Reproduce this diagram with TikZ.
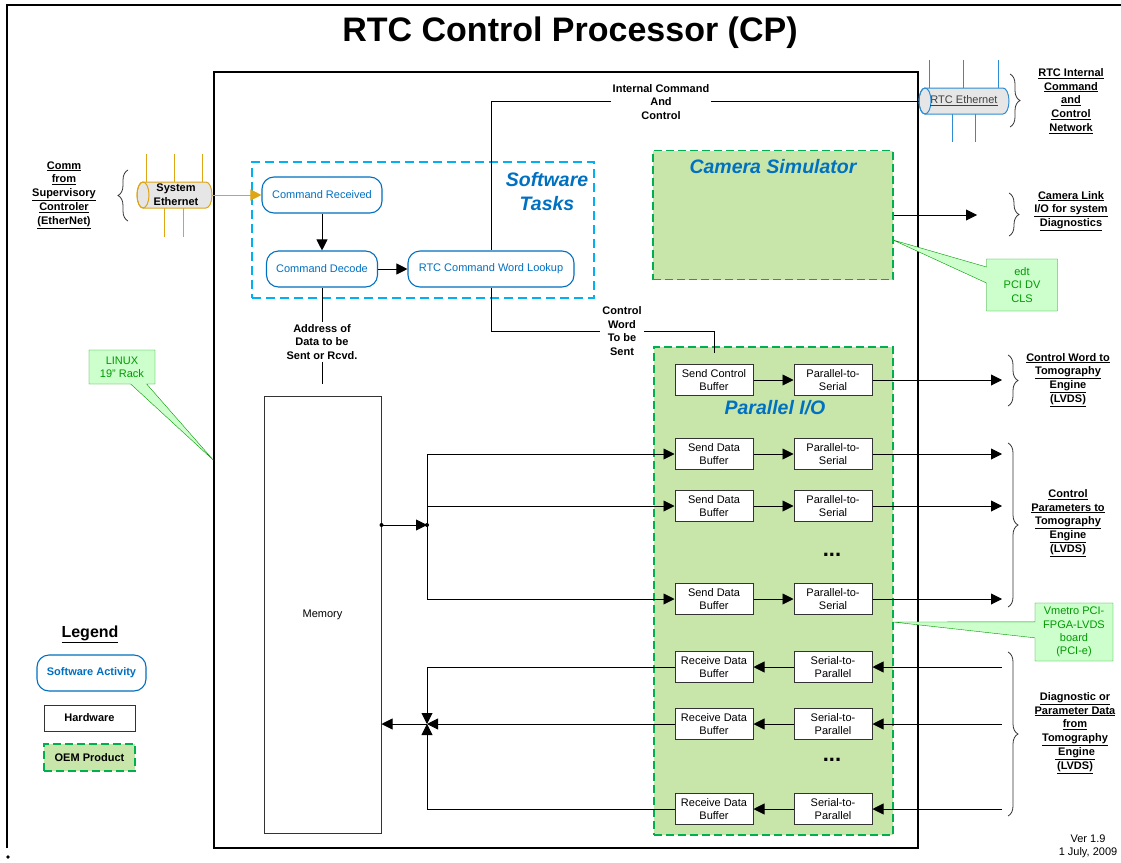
\documentclass[tikz,border=0pt]{standalone}
\usepackage{fontspec}
\setmainfont{Liberation Sans}
\usetikzlibrary{arrows.meta,shapes,shapes.callouts,decorations.pathreplacing}

\definecolor{swblue}{RGB}{0,112,192}
\definecolor{taskcyan}{RGB}{0,176,240}
\definecolor{oemgreen}{RGB}{0,176,80}
\definecolor{oemfill}{RGB}{200,230,170}
\definecolor{notegreen}{RGB}{0,153,0}
\definecolor{notefill}{RGB}{204,255,204}
\definecolor{netgold}{RGB}{222,165,20}
\definecolor{netblue}{RGB}{45,140,210}
\definecolor{netgray}{RGB}{230,230,230}

\newcommand{\boxfont}{\fontsize{11}{13.4}\selectfont}
\newcommand{\lblfont}{\fontsize{11}{13.8}\selectfont\bfseries}
\newcommand{\grpfont}{\fontsize{19.5}{24}\selectfont\bfseries\itshape}
\newcommand{\ul}[1]{\underline{#1}}

\begin{document}
\begin{tikzpicture}[x=1pt,y=-1pt]
\useasboundingbox (0,0) rectangle (1121,862);

\tikzstyle{swtask}=[draw=swblue,line width=1.1pt,rounded corners=12pt,fill=white,text=swblue,font=\boxfont,minimum height=36pt,inner sep=2pt]
\tikzstyle{hwbox}=[draw=black!80,line width=1pt,fill=white,font=\boxfont,align=center,minimum width=78pt,minimum height=31pt,inner sep=1pt]
\tikzstyle{oem}=[draw=oemgreen,fill=oemfill,line width=1.6pt,dash pattern=on 8pt off 4pt]
\tikzstyle{tasks}=[draw=taskcyan,line width=1.8pt,dash pattern=on 9pt off 5pt]
\tikzstyle{grouplbl}=[text=swblue,font=\grpfont,align=center]
\tikzstyle{lbl}=[font=\lblfont,align=center,fill=white,inner sep=2pt]
\tikzstyle{extlbl}=[font=\lblfont,align=center]
\tikzstyle{note}=[rectangle callout,draw=notegreen,fill=notefill,text=notegreen,font=\boxfont,align=center,inner sep=1pt,callout pointer width=16pt]
\tikzstyle{arr}=[-{Triangle[length=11pt,width=11pt]},line width=0.9pt]
\tikzstyle{brc}=[decorate,decoration={brace,amplitude=10pt},line width=0.8pt,black!80]
\tikzstyle{netcyl}=[minimum width=75pt,minimum height=26pt,inner sep=0pt,outer sep=0pt]

\draw[line width=2.5pt] (7,848) -- (7,5) -- (1130,5);
\fill (8,857) circle (1.8pt);

\node[draw,line width=1.5pt,minimum width=704pt,minimum height=776pt,inner sep=0pt] (rack) at (566,460) {};
\node[font=\fontsize{34}{40}\selectfont\bfseries] (title) at (570,33) {RTC Control Processor (CP)};

\node[tasks,minimum width=342pt,minimum height=136pt] (swtasks) at (423,230) {};
\node[grouplbl] (swtaskslbl) at (547,192) {Software\\Tasks};

\node[oem,minimum width=240pt,minimum height=129pt] (camsim) at (773,215) {};
\node[grouplbl] (camsimlbl) at (773,167) {Camera Simulator};
\node[oem,minimum width=239pt,minimum height=488pt] (pario) at (773.5,591) {};
\node[grouplbl] (pariolbl) at (775,408) {Parallel I/O};

\node[swtask,minimum width=120pt] (cmdrecv) at (322,195) {Command Received};
\node[swtask,minimum width=111pt] (cmddec) at (322,269) {Command Decode};
\node[swtask,minimum width=166pt] (lookup) at (491,269) {RTC Command Word Lookup};
\draw[arr] (cmdrecv) -- (cmddec);
\draw[arr] (cmddec) -- (lookup);

\node[netcyl] (sysnet) at (174.5,195) {};
\draw[netgold,line width=1pt] (146,154) -- (146,184) (174,154) -- (174,182) (202,154) -- (202,182);
\draw[netgold,line width=1pt] (164,208) -- (164,237) (183,208) -- (183,237);
\draw[netgold,line width=1pt,fill=netgray] ([xshift=6pt]sysnet.north west) -- ([xshift=-6pt]sysnet.north east) arc[start angle=90,end angle=-90,x radius=6pt,y radius=13pt] -- ([xshift=6pt]sysnet.south west) arc[start angle=270,end angle=90,x radius=6pt,y radius=13pt] -- cycle;
\draw[netgold,line width=1pt] ([xshift=6pt]sysnet.west) ellipse[x radius=6pt,y radius=13pt];
\node[fill=netgray,font=\lblfont,align=center,inner sep=1pt] (sysnettxt) at (176,195) {System\\Ethernet};
\draw[arr,netgold] (sysnet.east) -- (cmdrecv.west);
\draw[brc] (128,221) -- (128,170);
\node[extlbl] (commlbl) at (64,195) {\ul{Comm}\\\ul{from}\\\ul{Supervisory}\\\ul{Controler}\\\ul{(EtherNet)}};

\node[netcyl,minimum width=90pt] (rtcnet) at (964,101) {};
\draw[netblue,line width=1pt] (929,60) -- (929,95) (963,60) -- (963,88) (998,60) -- (998,88);
\draw[netblue,line width=1pt] (952,114) -- (952,142) (975,114) -- (975,142);
\draw[netblue,line width=1pt,fill=netgray] ([xshift=6pt]rtcnet.north west) -- ([xshift=-6pt]rtcnet.north east) arc[start angle=90,end angle=-90,x radius=6pt,y radius=13pt] -- ([xshift=6pt]rtcnet.south west) arc[start angle=270,end angle=90,x radius=6pt,y radius=13pt] -- cycle;
\draw[netblue,line width=1pt] ([xshift=6pt]rtcnet.west) ellipse[x radius=6pt,y radius=13pt];
\node[font=\boxfont,text=black!75,inner sep=1pt] (rtcnettxt) at (964,101) {\ul{RTC Ethernet}};
\draw[brc] (1010,74) -- (1010,127);
\node[extlbl] (netlbl) at (1071,101) {\ul{RTC Internal}\\\ul{Command}\\\ul{and}\\\ul{Control}\\\ul{Network}};

\coordinate (icc) at (491,101);
\coordinate (cwturn) at (491,331);
\coordinate (cwcorner) at (714,331);
\coordinate (cwend) at (714,353);
\draw[line width=0.9pt] (rtcnet.west) -- (icc) -- (lookup.north);
\draw[line width=0.9pt] (lookup.south) -- (cwturn) -- (cwcorner) -- (cwend);
\node[lbl] (icclbl) at (661,102) {Internal Command\\And\\Control};
\node[lbl] (cwlbl) at (622,331) {Control\\Word\\To be\\Sent};

\coordinate (addrend) at (322,384);
\draw[line width=0.9pt] (cmddec.south) -- (addrend);
\node[lbl] (addrlbl) at (322,342) {Address of\\Data to be\\Sent or Rcvd.};

\node[hwbox,minimum width=117pt,minimum height=437pt] (memory) at (322.5,614.5) {Memory};

\draw[arr] (camsim.east) -- (977,215);
\draw[brc] (1009,193) -- (1009,236);
\node[extlbl] (camlbl) at (1071,211) {\ul{Camera Link}\\\ul{I/O for system}\\\ul{Diagnostics}};

\coordinate (edttip) at (893,240);
\node[note,callout absolute pointer=(edttip),minimum width=71pt,minimum height=52pt] (edt) at (1022,285) {edt\\PCI DV\\CLS};
\coordinate (linuxtip) at (rack.west);
\node[note,callout absolute pointer=(linuxtip),minimum width=66pt,minimum height=34pt] (linux) at (122,367) {LINUX\\19" Rack};
\coordinate (vmtip) at (893,622);
\node[note,callout absolute pointer=(vmtip),minimum width=78pt,minimum height=58pt] (vmetro) at (1074,632) {Vmetro PCI-\\FPGA-LVDS\\board\\(PCI-e)};

\node[hwbox] (scb) at (714,380) {Send Control\\Buffer};
\node[hwbox] (p2s0) at (833,380) {Parallel-to-\\Serial};
\node[hwbox] (sdb1) at (714,454) {Send Data\\Buffer};
\node[hwbox] (p2s1) at (833,454) {Parallel-to-\\Serial};
\node[hwbox] (sdb2) at (714,506) {Send Data\\Buffer};
\node[hwbox] (p2s2) at (833,506) {Parallel-to-\\Serial};
\node[hwbox] (sdb3) at (714,599) {Send Data\\Buffer};
\node[hwbox] (p2s3) at (833,599) {Parallel-to-\\Serial};
\node[hwbox] (rdb1) at (714,667) {Receive Data\\Buffer};
\node[hwbox] (s2p1) at (833,667) {Serial-to-\\Parallel};
\node[hwbox] (rdb2) at (714,724) {Receive Data\\Buffer};
\node[hwbox] (s2p2) at (833,724) {Serial-to-\\Parallel};
\node[hwbox] (rdb3) at (714,809) {Receive Data\\Buffer};
\node[hwbox] (s2p3) at (833,809) {Serial-to-\\Parallel};
\node[font=\fontsize{22}{22}\selectfont\bfseries] (senddots) at (832,555) {...};
\node[font=\fontsize{22}{22}\selectfont\bfseries] (recvdots) at (832,760) {...};

\coordinate (out0) at (1002,380);
\coordinate (out1) at (1002,454);
\coordinate (out2) at (1002,506);
\coordinate (out3) at (1002,599);
\coordinate (in1) at (1002,667);
\coordinate (in2) at (1002,724);
\coordinate (in3) at (1002,809);

\draw[arr] (scb) -- (p2s0);
\draw[arr] (p2s0) -- (out0);
\draw[arr] (sdb1) -- (p2s1);
\draw[arr] (p2s1) -- (out1);
\draw[arr] (sdb2) -- (p2s2);
\draw[arr] (p2s2) -- (out2);
\draw[arr] (sdb3) -- (p2s3);
\draw[arr] (p2s3) -- (out3);
\draw[arr] (in1) -- (s2p1);
\draw[arr] (s2p1) -- (rdb1);
\draw[arr] (in2) -- (s2p2);
\draw[arr] (s2p2) -- (rdb2);
\draw[arr] (in3) -- (s2p3);
\draw[arr] (s2p3) -- (rdb3);

\coordinate (sendjn) at (427,525);
\draw[arr] (memory.east |- sendjn) -- (sendjn);
\fill (memory.east |- sendjn) circle (2pt);
\fill (sendjn) circle (2pt);
\draw[arr] (sendjn) |- (sdb1.west);
\draw[arr] (sendjn) |- (sdb2.west);
\draw[arr] (sendjn) |- (sdb3.west);

\coordinate (recvjn) at (427,724);
\draw[arr] (rdb1.west) -| (recvjn);
\draw[arr] (rdb3.west) -| (recvjn);
\draw[arr] (rdb2.west) -- (recvjn);
\draw[arr] (recvjn) -- (memory.east |- recvjn);

\draw[brc] (1008,355) -- (1008,406);
\node[extlbl] (cwordlbl) at (1068,380) {\ul{Control Word to}\\\ul{Tomography}\\\ul{Engine}\\\ul{(LVDS)}};
\draw[brc] (1008,443) -- (1008,607);
\node[extlbl] (cparlbl) at (1068,523) {\ul{Control}\\\ul{Parameters to}\\\ul{Tomography}\\\ul{Engine}\\\ul{(LVDS)}};
\draw[brc] (1008,652) -- (1008,816);
\node[extlbl] (diaglbl) at (1075,733) {\ul{Diagnostic or}\\\ul{Parameter Data}\\\ul{from}\\\ul{Tomography}\\\ul{ Engine}\\\ul{(LVDS)}};

\node[font=\fontsize{16}{18}\selectfont\bfseries] (legend) at (90,634) {\ul{Legend}};
\node[swtask,font=\lblfont,minimum width=109pt] (legsw) at (91.5,673) {Software Activity};
\node[hwbox,font=\lblfont,minimum width=91pt,minimum height=26pt] (leghw) at (89.5,718) {Hardware};
\node[oem,font=\lblfont,minimum width=91pt,minimum height=27pt] (legoem) at (89.5,757.5) {OEM Product};

\node[font=\boxfont,align=center] (ver) at (1088,846) {Ver 1.9\\1 July, 2009};
\end{tikzpicture}
\end{document}
